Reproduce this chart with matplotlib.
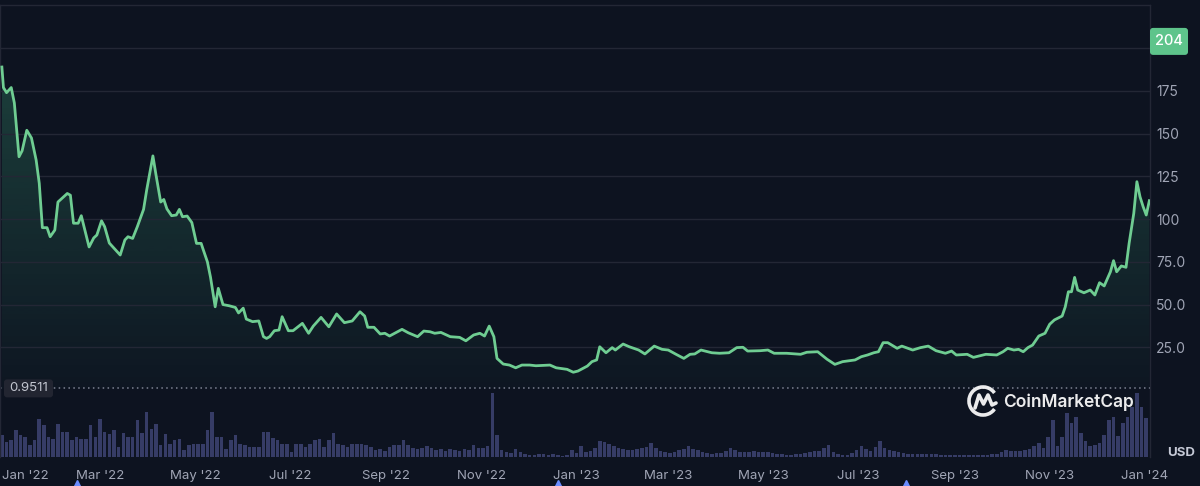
import matplotlib
matplotlib.use("Agg")
import matplotlib.pyplot as plt
import matplotlib.dates as mdates
import matplotlib.transforms as mtransforms
from matplotlib.patches import FancyBboxPatch, Arc
from matplotlib.colors import LinearSegmentedColormap
import numpy as np
import pandas as pd

# ---------------- data ----------------
price_dates = [
    "2021-12-28", "2021-12-29", "2021-12-31", "2022-01-03", "2022-01-05", "2022-01-08",
    "2022-01-10", "2022-01-13", "2022-01-16", "2022-01-19", "2022-01-21", "2022-01-23",
    "2022-01-26", "2022-01-28", "2022-01-31", "2022-02-02", "2022-02-08", "2022-02-10",
    "2022-02-12", "2022-02-15", "2022-02-17", "2022-02-22", "2022-02-25", "2022-02-27",
    "2022-03-02", "2022-03-04", "2022-03-07", "2022-03-11", "2022-03-14", "2022-03-17",
    "2022-03-19", "2022-03-22", "2022-03-25", "2022-03-29", "2022-03-31", "2022-04-04",
    "2022-04-06", "2022-04-09", "2022-04-11", "2022-04-13", "2022-04-16", "2022-04-19",
    "2022-04-21", "2022-04-23", "2022-04-26", "2022-04-29", "2022-05-02", "2022-05-05",
    "2022-05-06", "2022-05-09", "2022-05-11", "2022-05-14", "2022-05-16", "2022-05-19",
    "2022-05-23", "2022-05-27", "2022-05-29", "2022-06-01", "2022-06-03", "2022-06-07",
    "2022-06-11", "2022-06-14", "2022-06-16", "2022-06-18", "2022-06-21", "2022-06-24",
    "2022-06-26", "2022-06-30", "2022-07-03", "2022-07-09", "2022-07-13", "2022-07-16",
    "2022-07-21", "2022-07-26", "2022-07-31", "2022-08-05", "2022-08-10", "2022-08-15",
    "2022-08-18", "2022-08-20", "2022-08-24", "2022-08-28", "2022-08-31", "2022-09-03",
    "2022-09-11", "2022-09-15", "2022-09-21", "2022-09-25", "2022-09-29", "2022-10-02",
    "2022-10-06", "2022-10-12", "2022-10-18", "2022-10-22", "2022-10-27", "2022-10-31",
    "2022-11-03", "2022-11-06", "2022-11-09", "2022-11-11", "2022-11-15", "2022-11-19",
    "2022-11-23", "2022-11-27", "2022-12-02", "2022-12-06", "2022-12-15", "2022-12-19",
    "2022-12-26", "2022-12-30", "2023-01-02", "2023-01-08", "2023-01-11", "2023-01-14",
    "2023-01-16", "2023-01-20", "2023-01-24", "2023-01-26", "2023-01-31", "2023-02-04",
    "2023-02-10", "2023-02-14", "2023-02-20", "2023-02-25", "2023-03-01", "2023-03-06",
    "2023-03-11", "2023-03-15", "2023-03-18", "2023-03-22", "2023-03-29", "2023-04-03",
    "2023-04-09", "2023-04-14", "2023-04-18", "2023-04-21", "2023-04-29", "2023-05-04",
    "2023-05-08", "2023-05-16", "2023-05-25", "2023-05-29", "2023-06-05", "2023-06-11",
    "2023-06-16", "2023-06-21", "2023-06-29", "2023-07-03", "2023-07-07", "2023-07-11",
    "2023-07-14", "2023-07-17", "2023-07-20", "2023-07-26", "2023-07-29", "2023-08-05",
    "2023-08-10", "2023-08-15", "2023-08-20", "2023-08-26", "2023-08-30", "2023-09-02",
    "2023-09-09", "2023-09-13", "2023-09-21", "2023-09-28", "2023-10-02", "2023-10-05",
    "2023-10-09", "2023-10-12", "2023-10-15", "2023-10-18", "2023-10-21", "2023-10-25",
    "2023-10-29", "2023-11-01", "2023-11-04", "2023-11-09", "2023-11-11", "2023-11-13",
    "2023-11-15", "2023-11-17", "2023-11-19", "2023-11-23", "2023-11-27", "2023-11-30",
    "2023-12-03", "2023-12-06", "2023-12-10", "2023-12-12", "2023-12-14", "2023-12-17",
    "2023-12-20", "2023-12-22", "2023-12-25", "2023-12-27", "2023-12-29", "2023-12-31",
    "2024-01-02", "2024-01-04",
]
price_values = [
    189, 177, 174, 177, 168, 136.5,
    140, 152, 147.5, 134.6, 121, 95,
    95, 89.7, 93.6, 110, 115, 114,
    97.6, 97.6, 102, 83.7, 89, 90.7,
    99, 95.6, 86, 82, 79, 87.8,
    89.7, 88.7, 95.6, 105.7, 117, 137,
    125.8, 110, 111.5, 106, 102, 102.4,
    105.7, 101.4, 101.8, 98, 85.8, 85.8,
    83, 75, 66, 48.7, 59.5, 50,
    49.3, 48.3, 45.1, 47.9, 41.5, 40,
    40.4, 31.2, 30.2, 31.2, 34.7, 35.1,
    42.9, 34.7, 34.7, 39, 33.2, 37.4,
    42.5, 37, 44.5, 39.4, 40.4, 45.8,
    43.3, 36.7, 36.7, 32.8, 33.2, 31.6,
    35.5, 33.5, 31.2, 34.5, 34.1, 33.2,
    33.7, 31.2, 30.8, 28.8, 32.2, 33.2,
    31.6, 37.4, 31.2, 18.5, 15.2, 14.6,
    13, 14.6, 14.6, 14.2, 14.6, 13,
    12.1, 10.4, 11.1, 14, 16.6, 17.6,
    25.3, 21.8, 24.8, 23.4, 26.9, 25.3,
    23.4, 21.1, 25.7, 23.8, 23.4, 20.9,
    18.5, 20.9, 21.1, 23.4, 21.8, 21.5,
    21.8, 24.8, 25, 22.8, 23, 23.4,
    21.5, 21.5, 20.9, 22.1, 22.4, 18,
    15, 16.6, 17.6, 19.5, 20.5, 21.8,
    22.4, 27.7, 27.7, 24.4, 25.7, 23.4,
    24.8, 25.7, 23, 21.5, 22.8, 20.5,
    20.9, 19.1, 20.9, 20.5, 22.4, 24.4,
    23.4, 23.8, 22.4, 24.8, 26.3, 31.6,
    33.2, 38.5, 41, 43.3, 48.7, 57.5,
    57.5, 65.9, 58.5, 56.9, 58.5, 55.6,
    62.8, 60.9, 69.2, 75.7, 69.2, 72.6,
    71.8, 85.8, 103.4, 121.9, 113.1, 107.3,
    102.4, 110.8,
]

volume_start = "2021-12-28"
volume_freq = "3D"
volume_values = [
    21.7, 15, 16.7, 27, 21.7, 20, 11.7, 16.7, 38, 32,
    20, 18, 33, 25, 25, 16.7, 20, 18, 18, 32,
    20, 38, 25, 23, 27, 10, 24, 20, 20, 37,
    24, 45, 28, 33, 12, 23, 13, 17, 18, 7,
    12, 13, 13, 13, 27, 45, 20, 20, 8, 17,
    22, 13, 12, 10, 10, 10, 25, 25, 19, 17,
    13, 13, 5, 13, 13, 10, 13, 17, 18, 10,
    17, 24, 13, 12, 10, 13, 13, 13, 12, 10,
    7, 8, 6, 10, 12, 12, 17, 12, 9, 8,
    9, 11, 9, 7, 8, 6, 8, 7, 6, 8,
    7, 12, 9, 9, 11, 64, 22, 7, 5, 4,
    8, 5, 3, 2, 2, 3, 3, 2, 3, 2,
    1, 2, 7, 4, 11, 5, 6, 9, 16, 15,
    13, 11, 9, 8, 7, 7, 8, 9, 10, 14,
    9, 6, 5, 4, 5, 7, 8, 11, 8, 7,
    5, 4, 3, 4, 4, 6, 9, 7, 5, 5,
    5, 6, 5, 5, 5, 4, 3, 3, 2, 2,
    3, 3, 4, 5, 6, 6, 9, 12, 5, 3,
    2, 2, 4, 7, 11, 8, 6, 10, 16, 9,
    7, 6, 5, 4, 3, 3, 3, 3, 3, 3,
    3, 2, 2, 2, 2, 2, 2, 2, 2, 2,
    2, 2, 3, 3, 5, 7, 6, 6, 6, 7,
    8, 11, 14, 9, 20, 37, 11, 20, 44, 34,
    40, 24, 16, 11, 12, 14, 22, 37, 40, 21,
    34, 40, 50, 64, 50, 39,
]

tick_months = pd.date_range("2022-01-01", "2024-01-01", freq="2MS")
tick_labels = [d.strftime("%b '%y") for d in tick_months]
ytick_values = [25, 50, 75, 100, 125, 150, 175, 200]
ytick_labels = ["25.0", "50.0", "75.0", "100", "125", "150", "175", ""]
last_price_label = "204"
last_price_level = 204
reference_level = 0.9511
reference_label = "0.9511"
event_dates = ["2022-02-14", "2022-12-20", "2023-08-01"]

# ---------------- style ----------------
BG = "#0d1320"
GRID = "#232735"
LINE = "#6fcd92"
VOL = "#363c66"
TXT = "#a0a5b5"
FONT = ["Inter", "DejaVu Sans"]
plt.rcParams["font.family"] = FONT

W, H = 1200, 486
fig = plt.figure(figsize=(W / 100, H / 100), dpi=100, facecolor=BG)

x_left = pd.Timestamp("2021-12-26 19:00")
x_right = pd.Timestamp("2024-01-04 10:00")

# volume axes (behind)
vax = fig.add_axes([0, (H - 457) / H, 1150 / W, (457 - 390) / H])
vax.set_facecolor(BG)
vdates = pd.date_range(volume_start, periods=len(volume_values), freq=volume_freq)
vax.bar(vdates, volume_values, width=2.3, color=VOL, linewidth=0, align="center")
vax.set_xlim(x_left, x_right)
vax.set_ylim(0, 67)
vax.axis("off")

# price axes
ax = fig.add_axes([0, (H - 457) / H, 1150 / W, (457 - 5) / H])
ax.patch.set_alpha(0)
dates = pd.to_datetime(price_dates)
xn = mdates.date2num(dates)

# gradient fill under the line
poly = ax.fill_between(xn, price_values, reference_level, color="none", linewidth=0)
cmap = LinearSegmentedColormap.from_list(
    "g", [(0.30, 0.80, 0.58, 0.02), (0.30, 0.80, 0.58, 0.24)])
grad = np.linspace(0, 1, 256).reshape(-1, 1)
im = ax.imshow(grad, cmap=cmap, aspect="auto", origin="lower",
               extent=[xn.min(), xn.max(), reference_level, max(price_values)],
               zorder=1, interpolation="bilinear")
im.set_clip_path(poly.get_paths()[0], transform=ax.transData)

ax.plot(xn, price_values, color=LINE, linewidth=2.0, zorder=3,
        solid_joinstyle="round")
ax.axhline(reference_level, color="#7d8292", linewidth=1.1,
           linestyle=(0, (1, 2.2)), zorder=2)

ax.set_xlim(mdates.date2num(x_left), mdates.date2num(x_right))
ax.set_ylim(-39.2, 225.3)

# grid
ax.set_yticks(ytick_values)
ax.set_yticklabels(ytick_labels)
ax.yaxis.tick_right()
ax.grid(axis="y", color=GRID, linewidth=1.0, zorder=0)
ax.tick_params(axis="y", length=0, pad=4.5, labelsize=10, labelcolor=TXT)

ax.set_xticks(mdates.date2num(tick_months))
ax.set_xticklabels(tick_labels)
ax.tick_params(axis="x", length=0, pad=9.5, labelsize=9.5, labelcolor=TXT)
first = ax.get_xticklabels()[0]
first.set_horizontalalignment("left")
first.set_transform(first.get_transform() +
                    mtransforms.ScaledTranslation(-6 / 100, 0, fig.dpi_scale_trans))

for s in ["top", "left", "right"]:
    ax.spines[s].set_color(GRID)
    ax.spines[s].set_linewidth(1.0)
ax.spines["bottom"].set_visible(False)

FIGPX = mtransforms.Affine2D().scale(1 / W, 1 / H) + fig.transFigure

# last price badge
ydisp = ax.transData.transform((0, last_price_level))[1]
badge = FancyBboxPatch((1150, ydisp - 13.5), 38, 27,
                       boxstyle="round,pad=0,rounding_size=3",
                       transform=FIGPX, facecolor="#5ec48b", edgecolor="none")
fig.add_artist(badge)
fig.text(1169 / W, ydisp / H, last_price_label, ha="center", va="center",
         color="white", fontsize=10.5, fontweight="medium")

# reference level box
ref_disp = ax.transData.transform((0, reference_level))[1]
ref_box = FancyBboxPatch((4, ref_disp - 9), 49, 18,
                         boxstyle="round,pad=0,rounding_size=3",
                         transform=FIGPX, facecolor="#222531", edgecolor="none", zorder=5)
fig.add_artist(ref_box)
fig.text(28.5 / W, ref_disp / H, reference_label, ha="center", va="center",
         color="#c3c6d0", fontsize=9.5, zorder=6)

# USD label
fig.text(1181 / W, 1 - 453 / H, "USD", ha="center", va="center",
         color="#c5c9d6", fontsize=9.5, fontweight="bold")

# event markers
ed = mdates.date2num(pd.to_datetime(event_dates))
ax.plot(ed, [1 - 485 / H] * len(ed), linestyle="none", marker="^", markersize=7,
        color="#6a8cff",
        transform=mtransforms.blended_transform_factory(ax.transData, fig.transFigure),
        clip_on=False, zorder=6)

# CoinMarketCap watermark
PXU = mtransforms.Affine2D().scale(1 / W, -1 / H).translate(0, 1) + fig.transFigure
arc = Arc((983, 401), 28, 28, theta1=35, theta2=325, transform=PXU,
          color="white", linewidth=2.6, alpha=0.92)
fig.add_artist(arc)
mx = [975, 979, 983.5, 988, 992, 996]
my = [408, 395, 404, 395, 405, 403]
fig.add_artist(plt.Line2D(mx, my, transform=PXU, color="white", linewidth=2.6,
                          alpha=0.92, solid_joinstyle="round", solid_capstyle="round"))
fig.text(1003 / W, 1 - 402 / H, "CoinMarketCap", ha="left", va="center",
         color="white", alpha=0.92, fontsize=12.5, fontweight="semibold")

fig.savefig("out.png", dpi=100, facecolor=BG)
